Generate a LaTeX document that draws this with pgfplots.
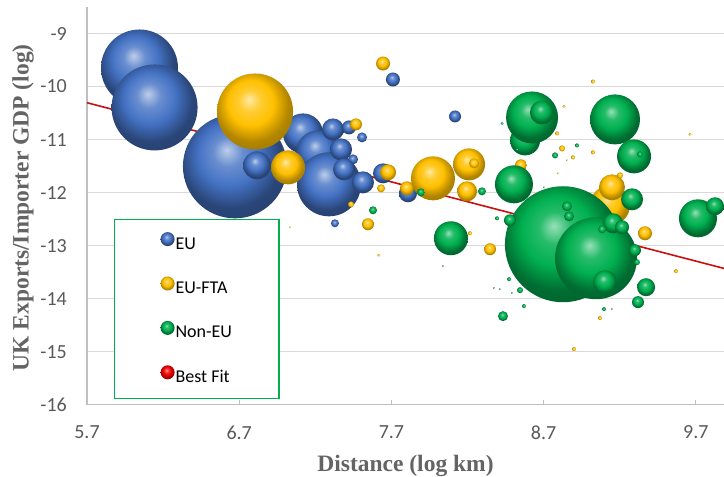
\documentclass[border=0pt]{standalone}
\usepackage{fontspec}
\usepackage{pgfplots}
\pgfplotsset{compat=1.18}
\setmainfont{Carlito}
\newfontfamily\titlefont{Liberation Serif}
\definecolor{euc}{RGB}{68,114,196}
\definecolor{ftac}{RGB}{255,192,0}
\definecolor{nonc}{RGB}{0,176,80}
\definecolor{redb}{RGB}{240,0,0}
\definecolor{fitc}{RGB}{200,16,16}
\definecolor{gridc}{RGB}{217,217,217}
\definecolor{axisc}{RGB}{191,191,191}
\definecolor{tickc}{RGB}{89,89,89}
\definecolor{titlec}{RGB}{100,100,100}
\definecolor{legc}{RGB}{0,176,80}

\pgfdeclareradialshading{ballEU}{\pgfpoint{-4bp}{8bp}}{color(0bp)=(euc!35!white); color(7bp)=(euc!80!white); color(15bp)=(euc); color(24bp)=(euc!62!black); color(50bp)=(euc!40!black)}
\pgfdeclareradialshading{ballFTA}{\pgfpoint{-4bp}{8bp}}{color(0bp)=(ftac!35!white); color(7bp)=(ftac!80!white); color(15bp)=(ftac); color(24bp)=(ftac!70!black); color(50bp)=(ftac!45!black)}
\pgfdeclareradialshading{ballNON}{\pgfpoint{-4bp}{8bp}}{color(0bp)=(nonc!40!white); color(7bp)=(nonc!85!white); color(15bp)=(nonc); color(24bp)=(nonc!62!black); color(50bp)=(nonc!40!black)}
\pgfdeclareradialshading{ballRED}{\pgfpoint{-4bp}{8bp}}{color(0bp)=(redb!35!white); color(7bp)=(redb!80!white); color(15bp)=(redb); color(24bp)=(redb!65!black); color(50bp)=(redb!45!black)}
\pgfdeclareplotmark{ballEU}{\pgfpathcircle{\pgfpointorigin}{\pgfplotmarksize}\pgfshadepath{ballEU}{0}\pgfusepath{}}
\pgfdeclareplotmark{ballFTA}{\pgfpathcircle{\pgfpointorigin}{\pgfplotmarksize}\pgfshadepath{ballFTA}{0}\pgfusepath{}}
\pgfdeclareplotmark{ballNON}{\pgfpathcircle{\pgfpointorigin}{\pgfplotmarksize}\pgfshadepath{ballNON}{0}\pgfusepath{}}
\pgfdeclareplotmark{ballRED}{\pgfpathcircle{\pgfpointorigin}{\pgfplotmarksize}\pgfshadepath{ballRED}{0}\pgfusepath{}}

\pgfplotstableread{
x y r
6.045 -9.650 38.5
6.144 -10.394 43
6.672 -11.505 52
6.817 -11.486 14
7.119 -10.884 20
7.218 -11.242 22
7.290 -11.844 32
7.316 -10.809 11
7.421 -10.771 7
7.507 -10.959 5
7.369 -11.185 11
7.448 -11.373 5
7.389 -11.562 11
7.513 -11.807 11
7.645 -11.637 10
7.809 -12.014 9
7.329 -12.579 4
7.710 -9.867 7
8.118 -10.564 6
}\eudata

\pgfplotstableread{
x y r
6.804 -10.470 38
7.973 -11.731 22
9.136 -12.240 20
7.021 -11.524 17
8.210 -11.468 16
9.149 -11.901 13
8.197 -11.976 10
7.678 -11.618 8
7.802 -11.920 7
7.645 -9.566 7
9.366 -12.767 7
7.467 -10.714 6
7.546 -12.597 6
8.551 -11.486 6
8.348 -13.068 6
8.243 -11.449 5
7.632 -11.920 4
7.434 -12.221 3
8.821 -11.166 3
9.202 -11.675 3
9.024 -9.905 2
8.788 -10.884 2
8.893 -11.336 2
9.024 -11.242 2
8.216 -12.767 2
9.070 -14.367 2
8.900 -14.951 2
9.570 -13.482 2
8.834 -10.375 1.5
9.662 -10.903 1.5
7.618 -13.181 1.5
8.854 -11.393 1
8.794 -11.637 1
7.034 -12.654 1
}\ftadata

\pgfplotstableread{
x y r
8.827 -12.974 58
9.044 -13.238 41
8.578 -11.016 15
8.624 -10.583 26
9.169 -10.620 25
9.714 -12.485 19
8.505 -11.844 19
9.294 -11.317 17
8.091 -12.861 17
8.689 -10.489 12
9.103 -13.690 12
9.281 -12.127 11
9.156 -12.579 10
9.826 -12.258 9
9.373 -13.784 9
9.215 -12.654 7
8.479 -12.522 6
9.300 -13.087 6
9.320 -14.066 6
8.854 -12.258 5
8.867 -12.447 5
8.433 -14.330 5
8.295 -11.976 4
7.894 -11.995 4
7.579 -12.334 4
9.084 -12.692 4
9.333 -11.279 3
8.775 -11.298 3
9.313 -13.313 3
8.545 -13.840 3
8.394 -12.485 2
8.919 -11.110 2
9.097 -14.198 2
8.473 -13.633 2
8.571 -14.141 2
8.525 -11.185 1.5
8.427 -10.696 1.5
9.149 -14.198 1
8.374 -13.803 1
8.413 -13.822 1
8.492 -13.897 1
8.039 -13.388 1
8.703 -11.901 1
}\nondata

\pgfplotsset{
  bub/.style={only marks, scatter, mark=#1, forget plot,
    visualization depends on={\thisrow{r}\as\rr},
    scatter/@pre marker code/.append style={/tikz/mark size=\rr pt}},
}

\begin{document}
\begin{tikzpicture}
\useasboundingbox (-87pt,-72.3pt) rectangle (637pt,404.7pt);
\begin{axis}[
  scale only axis, width=637pt, height=397.7pt,
  xmin=5.7, xmax=9.885, ymin=-16, ymax=-8.5,
  clip=false,
  axis x line*=bottom, axis y line*=left,
  axis line style={axisc, line width=1.3pt, -},
  xtick={5.7,6.7,7.7,8.7,9.7},
  xticklabels={5.7,6.7,7.7,8.7,9.7},
  ytick={-16,-15,-14,-13,-12,-11,-10,-9},
  yticklabels={-16,-15,-14,-13,-12,-11,-10,-9},
  xtick align=inside, major tick length=5pt,
  x tick style={axisc, line width=1.3pt},
  y tick style={draw=none},
  ymajorgrids, major grid style={gridc, line width=1.3pt},
  tick label style={font=\fontsize{20}{24}\selectfont, text=tickc, inner sep=0pt},
  xticklabel style={anchor=north, yshift=-21pt},
  yticklabel style={anchor=east, xshift=-20pt},
  xlabel={Distance (log km)},
  ylabel={UK Exports/Importer GDP (log)},
  every axis x label/.style={at={(axis description cs:0.5,0)}, anchor=center, yshift=-61pt,
    font=\titlefont\bfseries\fontsize{23.5}{28}\selectfont, text=titlec, inner sep=0pt},
  every axis y label/.style={at={(axis description cs:-0.1005,0.495)}, anchor=center, rotate=90,
    font=\titlefont\bfseries\fontsize{23.5}{28}\selectfont, text=titlec, inner sep=0pt},
  legend image code/.code={\draw[#1] plot coordinates {(7pt,5.5pt)};},
  legend cell align=left,
  legend style={at={(rel axis cs:0.0424,0.4669)}, anchor=north west,
    draw=legc, line width=1.2pt,
    font=\fontsize{18}{21}\selectfont, text=black,
    inner xsep=46pt, inner ysep=12.5pt, row sep=23.4pt,
    nodes={inner xsep=1pt, inner ysep=0pt, text height=13pt, text depth=4pt}},
]
\addplot[bub=ballEU] table[x=x,y=y] {\eudata};
\addplot[bub=ballFTA] table[x=x,y=y] {\ftadata};
\addplot[bub=ballNON] table[x=x,y=y] {\nondata};
\addplot[fitc, line width=1.6pt, forget plot] coordinates {(5.7,-10.305) (9.885,-13.43)};
\addlegendimage{only marks, mark=ballEU, mark size=7pt}
\addlegendentry{EU}
\addlegendimage{only marks, mark=ballFTA, mark size=7pt}
\addlegendentry{EU-FTA}
\addlegendimage{only marks, mark=ballNON, mark size=7pt}
\addlegendentry{Non-EU}
\addlegendimage{only marks, mark=ballRED, mark size=7pt}
\addlegendentry{Best Fit}
\end{axis}
\end{tikzpicture}
\end{document}
